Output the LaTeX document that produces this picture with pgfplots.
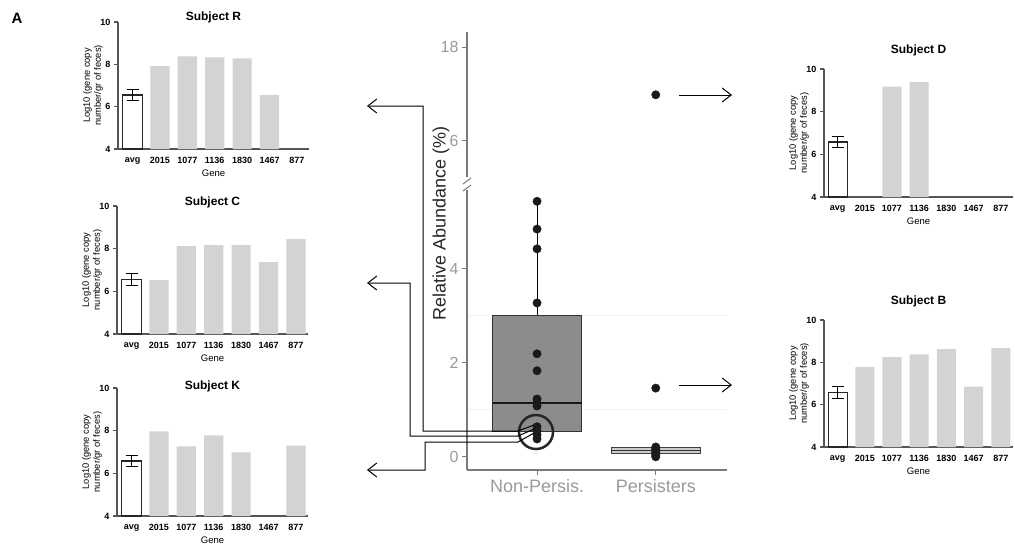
\documentclass[border=0pt]{standalone}
\usepackage{pgfplots}
\pgfplotsset{compat=1.18}
\usepgfplotslibrary{statistics}
\usetikzlibrary{arrows.meta}
\usepackage{fontspec}
\setmainfont{Liberation Sans}
\definecolor{barg}{HTML}{D3D3D3}
\definecolor{axg}{HTML}{555555}
\definecolor{tickg}{HTML}{9A9A9A}
\definecolor{caxg}{HTML}{7A7A7A}
\definecolor{boxg}{HTML}{8C8C8C}
\definecolor{dotc}{HTML}{1A1A1A}
\pgfplotsset{
 small/.style={
  scale only axis, width=191pt, height=127pt, anchor=south west,
  xmin=-0.53, xmax=6.44, ymin=4, ymax=10, ytick={4,6,8,10},
  xtick={0,...,6}, xticklabels={avg,2015,1077,1136,1830,1467,877},
  axis x line=bottom, axis y line=left,
  axis line style={-, axg, line width=1.3pt},
  x tick style={draw=none}, y tick style={axg, line width=1.1pt},
  tick align=outside, major tick length=4pt,
  tick label style={font=\fontsize{9}{10}\selectfont\bfseries},
  x tick label style={yshift=-1pt},
  /pgf/number format/assume math mode=true,
  xlabel={Gene}, ylabel={Log10 (gene copy\\number/gr of feces)},
  every axis x label/.style={at={(axis description cs:0.5,0)}, yshift=-24pt, anchor=center, font=\fontsize{9.5}{11}\selectfont},
  every axis y label/.style={at={(axis description cs:0,0.5)}, xshift=-25pt, rotate=90, anchor=center, align=center, font=\fontsize{9.3}{11}\selectfont},
  tshift/.initial=5pt,
  every axis title/.style={at={(axis description cs:0.5,1)}, anchor=center, yshift=\pgfkeysvalueof{/pgfplots/tshift}, font=\fontsize{12}{14}\selectfont\bfseries},
 },
 graybar/.style={ybar, bar width=0.7, bar shift=0pt, fill=barg, draw=none},
 avgbar/.style={ybar, bar width=0.7, bar shift=0pt, fill=white, draw=black!85, line width=1.1pt,
   error bars/.cd, y dir=both, y explicit, error bar style={line width=1.2pt, black},
   error mark options={rotate=90, line width=1.2pt, mark size=6pt, black}},
}
\begin{document}
\begin{tikzpicture}
\path[use as bounding box] (0pt,0pt) rectangle (1015pt,-550pt);
\node[font=\fontsize{15}{17}\selectfont\bfseries] at (17pt,-18pt) {A};

% Subject R
\begin{axis}[small, at={(118pt,-149pt)}, title={Subject R}, tshift=5pt]
\addplot[avgbar] coordinates {(0,6.55) +- (0,0.27)};
\addplot[graybar] coordinates {(1,7.92) (2,8.38) (3,8.33) (4,8.28) (5,6.55)};
\end{axis}
% Subject C
\begin{axis}[small, at={(117pt,-334pt)}, height=128pt, title={Subject C}, tshift=4pt]
\addplot[avgbar] coordinates {(0,6.55) +- (0,0.27)};
\addplot[graybar] coordinates {(1,6.52) (2,8.12) (3,8.17) (4,8.17) (5,7.37) (6,8.45)};
\end{axis}
% Subject K
\begin{axis}[small, at={(117pt,-516pt)}, height=128pt, title={Subject K}, tshift=2pt]
\addplot[avgbar] coordinates {(0,6.58) +- (0,0.27)};
\addplot[graybar] coordinates {(1,7.97) (2,7.27) (3,7.78) (4,6.98) (6,7.30)};
\end{axis}
% Subject D
\begin{axis}[small, at={(824pt,-197pt)}, height=128pt, xmin=-0.5, xmax=6.45, width=189pt, title={Subject D}, tshift=19pt]
\addplot[avgbar] coordinates {(0,6.58) +- (0,0.27)};
\addplot[graybar] coordinates {(2,9.17) (3,9.40)};
\end{axis}
% Subject B
\begin{axis}[small, at={(824pt,-447pt)}, xmin=-0.5, xmax=6.45, width=189pt, title={Subject B}, tshift=19pt]
\addplot[avgbar] coordinates {(0,6.58) +- (0,0.27)};
\addplot[graybar] coordinates {(1,7.78) (2,8.25) (3,8.38) (4,8.62) (5,6.85) (6,8.67)};
\end{axis}

% Central box plot, lower segment
\begin{axis}[scale only axis, width=260pt, height=280pt, at={(467pt,-470pt)}, anchor=south west,
  xmin=0.41, xmax=2.6, ymin=-0.28, ymax=5.67,
  xtick={1,2}, xticklabels={Non-Persis.,Persisters}, ytick={0,2,4},
  minor ytick={1,3}, yminorgrids, minor grid style={black!5, line width=1pt}, minor tick length=0pt,
  axis x line=bottom, axis y line=left, axis line style={-, caxg, line width=1.3pt},
  tick style={caxg, line width=1pt}, tick align=outside, major tick length=5pt,
  x tick label style={font=\fontsize{18}{20}\selectfont, text=tickg, yshift=-1pt},
  y tick label style={font=\fontsize{16}{18}\selectfont, text=tickg},
  /pgf/number format/assume math mode=true,
  ylabel={Relative Abundance (\%)},
  every axis y label/.style={at={(axis description cs:0,0.88)}, xshift=-26pt, rotate=90, anchor=center, font=\fontsize{18}{20}\selectfont, text=black!85},
  clip=false]
\addplot[boxplot prepared={draw position=1, median=1.15, upper quartile=3.0, lower quartile=0.54,
   upper whisker=5.43, lower whisker=0.4, box extend=0.75, whisker extend=0, draw direction=y},
   draw=black!80, fill=boxg, line width=1.2pt,
   boxplot/every median/.style={line width=2pt, draw=black!90},
   boxplot/every whisker/.style={line width=1pt, draw=black}] coordinates {};
\addplot[boxplot prepared={draw position=2, median=0.13, upper quartile=0.2, lower quartile=0.07,
   upper whisker=0.25, lower whisker=0.0, box extend=0.75, whisker extend=0, draw direction=y},
   draw=black!75, fill=black!20, line width=1.2pt,
   boxplot/every median/.style={line width=1.5pt, draw=black!80}] coordinates {};
\addplot[only marks, mark=*, mark size=4.2pt, dotc] coordinates {
 (1,5.43) (1,4.84) (1,4.42) (1,3.27) (1,2.19) (1,1.83) (1,1.23) (1,1.15) (1,1.08)
 (1,0.64) (1,0.55) (1,0.47) (1,0.38)};
\addplot[only marks, mark=*, mark size=4.2pt, dotc] coordinates {
 (2,1.46) (2,0.21) (2,0.18) (2,0.15) (2,0.12) (2,0.09) (2,0.06) (2,0.03) (2,0.0)};
\end{axis}
% Central box plot, upper segment
\begin{axis}[scale only axis, width=260pt, height=145pt, at={(467pt,-177pt)}, anchor=south west,
  xmin=0.41, xmax=2.6, ymin=1.4, ymax=19.92, ytick={6,18},
  axis x line=none, axis y line=left, axis line style={-, caxg, line width=1.3pt},
  tick style={caxg, line width=1pt}, tick align=outside, major tick length=5pt,
  y tick label style={font=\fontsize{16}{18}\selectfont, text=tickg},
  /pgf/number format/assume math mode=true, clip=false]
\addplot[only marks, mark=*, mark size=4.2pt, dotc] coordinates {(2,11.9)};
\end{axis}

\begin{scope}[x=1pt,y=-1pt]
% axis break marks
\draw[caxg, line width=1pt] (463,184) -- (471,178);
\draw[caxg, line width=1pt] (463,191) -- (471,185);
% circle
\draw[black!85, line width=2.5pt] (536,432) circle (17pt);
% connectors
\begin{scope}[black, line width=1pt, arr/.style={-{Straight Barb[length=9pt,width=14pt,line width=1pt]}}]
\draw[arr] (534,425) -- (518,431) -- (423,431) -- (423,106) -- (367,106);
\draw[arr] (534,429) -- (518,436) -- (410,436) -- (410,283) -- (367,283);
\draw[arr] (534,433) -- (518,442) -- (425,442) -- (425,470) -- (367,470);
\draw[arr] (679,95) -- (732,95);
\draw[arr] (679,385) -- (732,385);
\end{scope}
\end{scope}
\end{tikzpicture}
\end{document}
